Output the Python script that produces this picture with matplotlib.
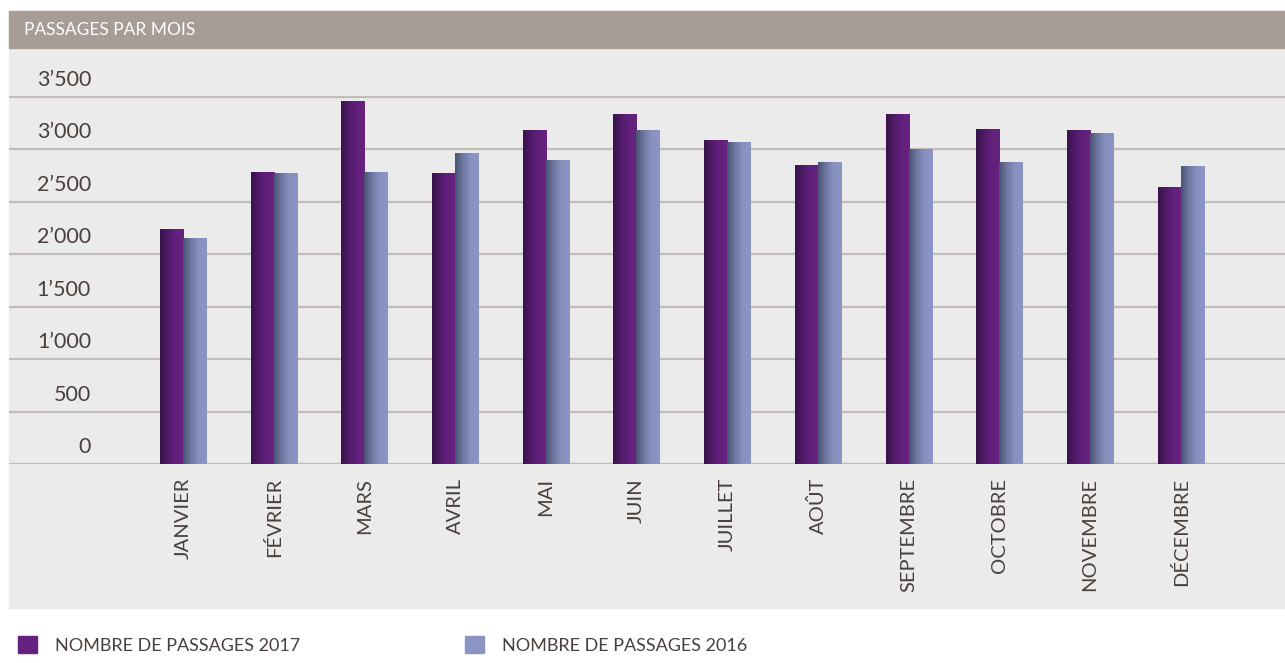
"""
Passages par mois: 2017 vs 2016 grouped bar chart.
"""

import matplotlib

matplotlib.use("Agg")

import matplotlib.pyplot as plt  # noqa: E402
import numpy as np  # noqa: E402
from matplotlib.colors import LinearSegmentedColormap  # noqa: E402
from matplotlib.patches import Patch, Rectangle  # noqa: E402

months = ["JANVIER", "FÉVRIER", "MARS", "AVRIL", "MAI", "JUIN", "JUILLET",
          "AOÛT", "SEPTEMBRE", "OCTOBRE", "NOVEMBRE", "DÉCEMBRE"]
passages_2017 = [2230, 2780, 3450, 2770, 3180, 3325, 3085, 2840, 3325, 3190, 3180, 2630]
passages_2016 = [2145, 2770, 2780, 2960, 2895, 3180, 3060, 2875, 3000, 2875, 3150, 2830]
y_ticks = [0, 500, 1000, 1500, 2000, 2500, 3000, 3500]
y_tick_labels = ["0", "500", "1\u2019000", "1\u2019500", "2\u2019000",
                 "2\u2019500", "3\u2019000", "3\u2019500"]

TEXT = "#4a403b"
GRID = "#c3bcb8"
PANEL = "#ebebeb"
HEADER = "#a89c97"
FONT = ["Lato", "DejaVu Sans"]

plt.rcParams["font.family"] = FONT

W, H = 1285, 663
fig = plt.figure(figsize=(W / 100, H / 100), dpi=100)

# grey panel and header band (pixel coords -> figure fraction)
fig.patches.append(Rectangle((9 / W, (H - 608) / H), 1276 / W, (608 - 48) / H,
                             transform=fig.transFigure, color=PANEL, zorder=-2))
fig.patches.append(Rectangle((9 / W, (H - 48) / H), 1276 / W, 37 / H,
                             transform=fig.transFigure, color=HEADER, zorder=-2))
fig.text(24 / W, (H - 30) / H, "PASSAGES PAR MOIS", color="white", fontsize=12.5,
         va="center", ha="left")

ax = fig.add_axes([9 / W, (H - 464) / H, 1276 / W, (464 - 48) / H])
ax.set_facecolor("none")

x = np.arange(len(months))
w = 0.254
bars17 = ax.bar(x - w / 2, passages_2017, w, color="#66227f", zorder=2)
bars16 = ax.bar(x + w / 2, passages_2016, w, color="#8a95c4", zorder=2)

# horizontal gradients on the bars (dark on the left side)
cmap17 = LinearSegmentedColormap.from_list("p17", ["#38134a", "#501b69", "#62207c", "#66227f"])
cmap16 = LinearSegmentedColormap.from_list("p16", ["#4a5373", "#6e79a2", "#8792c1", "#8b96c6"])
grad = np.linspace(0, 1, 64).reshape(1, -1)
for bars, cmap in ((bars17, cmap17), (bars16, cmap16)):
    for b in bars:
        x0, h = b.get_x(), b.get_height()
        ax.imshow(grad, cmap=cmap, aspect="auto", extent=[x0, x0 + b.get_width(), 0, h],
                  zorder=3, interpolation="bilinear")

ax.set_xlim(-1.918, 12.15)
ax.set_ylim(0, 3962)

for v in y_ticks:
    ax.axhline(v, color=GRID, lw=1.6, zorder=1)
for v, lab in zip(y_ticks, y_tick_labels):
    ax.annotate(lab, xy=(0.0643, v), xycoords=ax.get_yaxis_transform(),
                xytext=(0, 17), textcoords="offset pixels", ha="right", va="center",
                fontsize=15.5, color=TEXT)

ax.set_yticks([])
ax.set_xticks(x, months, rotation=90, fontsize=14.5, color=TEXT)
ax.tick_params(axis="x", length=0, pad=10)
for s in ax.spines.values():
    s.set_visible(False)

handles = [Patch(color="#66227f", label="NOMBRE DE PASSAGES 2017"),
           Patch(color="#8a95c4", label="NOMBRE DE PASSAGES 2016")]
leg = fig.legend(handles=handles, loc="center left", bbox_to_anchor=(18 / W, (H - 645) / H),
                 ncol=2, frameon=False, fontsize=13, handlelength=1.05, handleheight=1.05,
                 handletextpad=1.0, columnspacing=9.15, borderaxespad=0, borderpad=0)
for t in leg.get_texts():
    t.set_color(TEXT)

fig.savefig("out.png", dpi=100)
plt.close(fig)
